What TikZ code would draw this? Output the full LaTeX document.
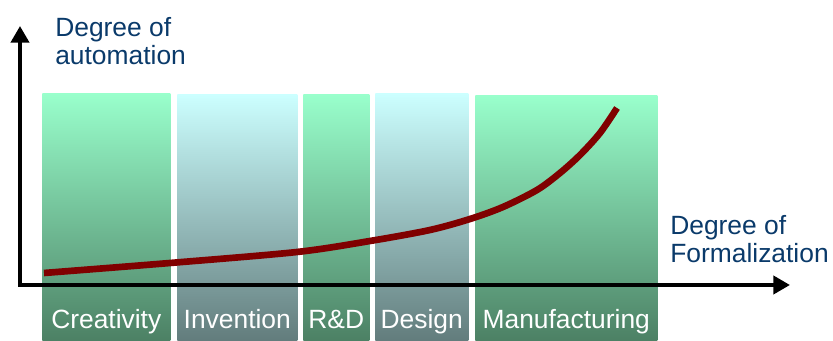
\documentclass[tikz,border=0pt]{standalone}
\usepackage{fontspec}
\setmainfont{Liberation Sans}
\usetikzlibrary{arrows.meta}
\definecolor{greentop}{HTML}{99FFCC}
\definecolor{greenbot}{HTML}{4C8064}
\definecolor{cyantop}{HTML}{CCFFFF}
\definecolor{cyanbot}{HTML}{627C7C}
\definecolor{axistext}{HTML}{0A3A6A}
\definecolor{curvecol}{HTML}{800000}
\tikzset{
    greenbar/.style={anchor=north west, inner sep=0, top color=greentop, bottom color=greenbot},
    cyanbar/.style={anchor=north west, inner sep=0, top color=cyantop, bottom color=cyanbot},
    barlabel/.style={anchor=base, inner sep=0, text=white},
    axislabel/.style={anchor=north west, inner sep=0, align=left, text=axistext},
    axis/.style={line width=3pt, {Triangle[length=12.5pt,width=13.5pt]}-{Triangle[length=12.5pt,width=13.5pt]}}
}
\begin{document}
\begin{tikzpicture}[x=0.75pt, y=-0.75pt, font=\fontsize{19.8}{21}\selectfont]
        \useasboundingbox (0,0) rectangle (833,341);

        % Bars
        \node[greenbar, minimum height=248*0.75pt, minimum width=128*0.75pt] (creat) at (42,93) {};
        \node[cyanbar, minimum height=247*0.75pt, minimum width=120*0.75pt] (invent) at (177,94) {};
        \node[greenbar, minimum height=247*0.75pt, minimum width=66*0.75pt] (rd) at (303,94) {};
        \node[cyanbar, minimum height=248*0.75pt, minimum width=93*0.75pt] (design) at (375,93) {};
        \node[greenbar, minimum height=246*0.75pt, minimum width=182*0.75pt] (manuf) at (475,95) {};

        % Bar labels
        \node[barlabel] (creatlbl) at (creat.center |- 0,329) {Creativity};
        \node[barlabel] (inventlbl) at (invent.center |- 0,329) {Invention};
        \node[barlabel] (rdlbl) at (rd.center |- 0,329) {R\&D};
        \node[barlabel] (designlbl) at (design.center |- 0,329) {Design};
        \node[barlabel] (manuflbl) at (manuf.center |- 0,329) {Manufacturing};

        % Axes
        \coordinate (ytip) at (20,26);
        \coordinate (xtip) at (790,285);
        \draw[axis] (ytip) |- (xtip);
        \node[axislabel] (ylbl) at (55,17) {Degree of\\automation};
        \node[axislabel] (xlbl) at (670,215) {Degree of\\Formalization};

        % Automation curve
        \draw[curvecol, line width=5pt] plot[smooth, tension=0.5] coordinates
            {(44,273) (170,263) (297,252) (370,241) (430,230) (470,219) (503,207)
             (537,190) (560,173) (580,155) (600,133) (617,108)};
\end{tikzpicture}
\end{document}
